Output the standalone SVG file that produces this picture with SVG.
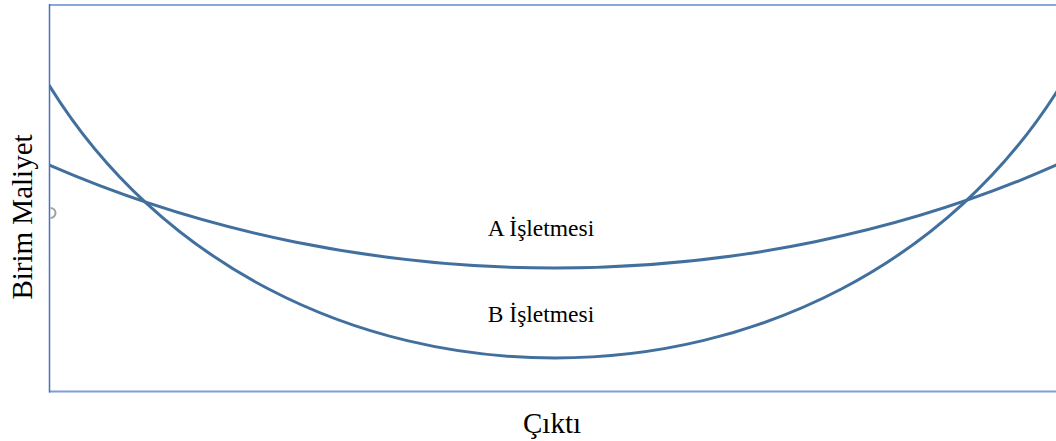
<svg xmlns="http://www.w3.org/2000/svg" width="1056" height="441" viewBox="0 0 1056 441">
  <style>
    .curve { fill: none; stroke: #41709e; stroke-width: 3; }
    .axis-label { font-family: "Liberation Serif", "Times New Roman", serif; font-size: 29px; fill: #000; }
    .curve-label { font-family: "Liberation Serif", "Times New Roman", serif; font-size: 23.5px; fill: #000; text-anchor: middle; }
  </style>
  <defs>
    <clipPath id="plot-area">
      <rect x="50" y="5" width="1006" height="387"/>
    </clipPath>
  </defs>
  <rect width="1056" height="441" fill="#ffffff"/>

  <!-- plot frame -->
  <g id="frame">
    <line x1="49" y1="5" x2="1056" y2="5" stroke="#8aa7dc" stroke-width="2"/>
    <line x1="49" y1="391.5" x2="1056" y2="391.5" stroke="#7d9edb" stroke-width="2"/>
    <line x1="49.5" y1="4" x2="49.5" y2="392.5" stroke="#4472c4" stroke-width="1.5"/>
    <path d="M50.5,208 A5,5 0 0 1 50.5,218" fill="none" stroke="#a0a0a0" stroke-width="2"/>
  </g>

  <!-- cost curves -->
  <g id="connectors" clip-path="url(#plot-area)">
    <path id="curve-a" class="curve" d="M49,165 C205,233 380,268 555,268 C730,268 905,233 1061,163"/>
    <path id="curve-b" class="curve" d="M49,85 C160,265 355,358 555,358 C755,358 950,265 1061,85"/>
  </g>

  <g id="label-a">
    <text class="curve-label" x="541" y="236">A İşletmesi</text>
  </g>
  <g id="label-b">
    <text class="curve-label" x="541" y="322">B İşletmesi</text>
  </g>

  <g id="axis-y">
    <text class="axis-label" text-anchor="middle" transform="translate(32,217) rotate(-90)">Birim Maliyet</text>
  </g>
  <g id="axis-x">
    <text class="axis-label" text-anchor="middle" x="552" y="433">Çıktı</text>
  </g>
</svg>
